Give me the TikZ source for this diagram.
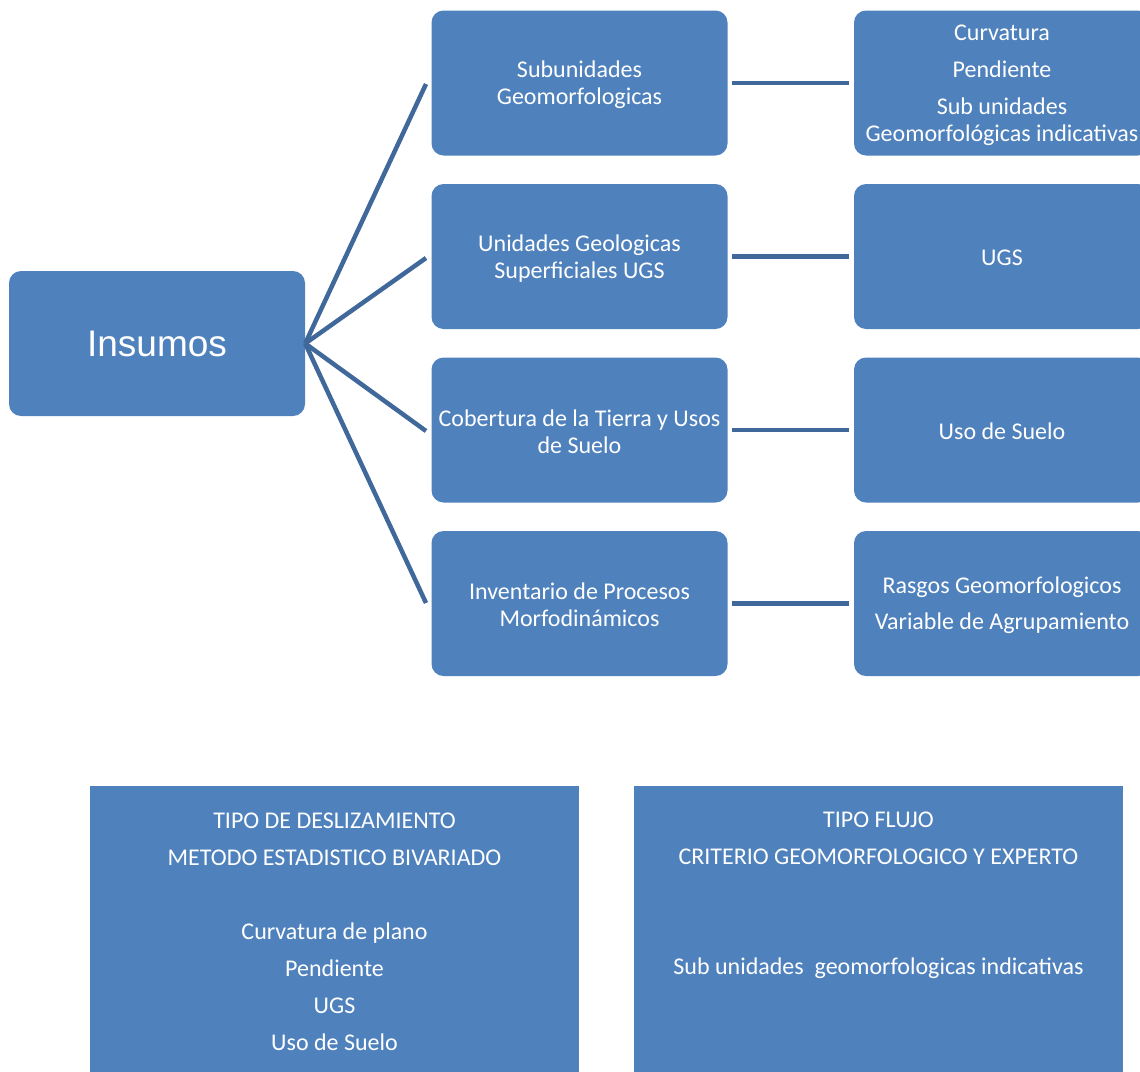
\documentclass[tikz,border=0pt]{standalone}
\usepackage{fontspec}
\setmainfont{Carlito}
\newfontfamily\arialf{Liberation Sans}
\definecolor{boxblue}{RGB}{79,129,189}
\definecolor{linkblue}{RGB}{64,104,154}
\begin{document}
\begin{tikzpicture}[x=1pt,y=-1pt,
  box/.style={fill=boxblue, draw=none, rounded corners=12pt, minimum width=296pt, minimum height=145pt,
    text=white, align=center, font=\fontsize{24}{27}\selectfont, inner sep=0pt},
  sqbox/.style={fill=boxblue, draw=none, minimum width=489pt, minimum height=300pt, inner sep=0pt},
  txt/.style={text=white, align=center, font=\fontsize{24}{27}\selectfont, inner sep=0pt},
  link/.style={draw=linkblue, line width=4.5pt}]
\useasboundingbox (0,0) rectangle (1140,1071);
\clip (0,0) rectangle (1140,1071);

\node[box, font=\arialf\fontsize{37}{44}\selectfont] (ins) at (157,343.5) {Insumos};

\node[box] (s1) at (579.5,83) {};
\node[txt] (s1t) at (579.5,85) {Subunidades\\Geomorfologicas};
\node[box] (s2) at (579.5,256.5) {};
\node[txt] (s2t) at (579.5,258.5) {Unidades Geologicas\\Superficiales UGS};
\node[box] (s3) at (579.5,430) {};
\node[txt] (s3t) at (579.5,431.5) {Cobertura de la Tierra y Usos\\de Suelo};
\node[box] (s4) at (579.5,603.5) {};
\node[txt] (s4t) at (579.5,605) {Inventario de Procesos\\Morfodinámicos};

\node[box] (t1) at (1002,83) {};
\node[txt] (t1t) at (1002,85.5) {Curvatura\\[10pt]Pendiente\\[10pt]Sub unidades\\Geomorfológicas indicativas};
\node[box] (t2) at (1002,256.5) {};
\node[txt] (t2t) at (1002,258) {UGS};
\node[box] (t3) at (1002,430) {};
\node[txt] (t3t) at (1002,431.5) {Uso de Suelo};
\node[box] (t4) at (1002,603.5) {};
\node[txt] (t4t) at (1002,605) {Rasgos Geomorfologicos\\[9pt]Variable de Agrupamiento};

\coordinate (e1) at (426,84);
\coordinate (e2) at (426,258);
\coordinate (e3) at (426,431);
\coordinate (e4) at (426,603);
\foreach \i in {1,2,3,4} {\draw[link] (ins.east) -- (e\i);}
\foreach \i in {1,2,3,4} {\draw[link] ([xshift=4pt]s\i.east) -- ([xshift=-5pt]t\i.west);}

\node[sqbox] (b1) at (334.5,936) {};
\node[sqbox] (b2) at (878.5,936) {};
\node[txt] (b1t) at (334.5,932) {TIPO DE DESLIZAMIENTO\\[10pt]METODO ESTADISTICO BIVARIADO\\[47pt]Curvatura de plano\\[10pt]Pendiente\\[10pt]UGS\\[10pt]Uso de Suelo};
\node[txt] (b2t) at (878.5,895.5) {TIPO FLUJO\\[10pt]CRITERIO GEOMORFOLOGICO Y EXPERTO\\[83pt]Sub unidades\ \ geomorfologicas indicativas};
\end{tikzpicture}
\end{document}
